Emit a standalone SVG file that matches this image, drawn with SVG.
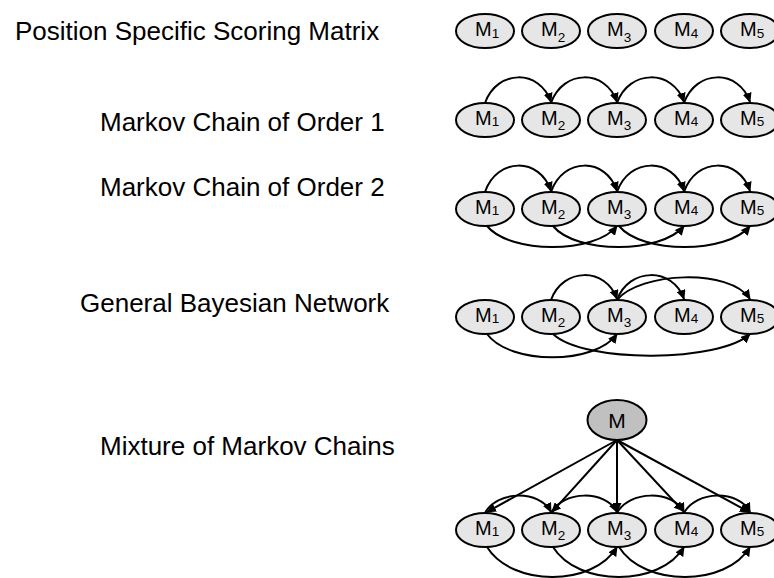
<svg xmlns="http://www.w3.org/2000/svg" width="774" height="578" viewBox="0 0 774 578">
<style>
.lbl{font-family:"Liberation Sans",Arial,sans-serif;font-size:26px;fill:#000}
.nt{font-family:"Liberation Sans",Arial,sans-serif;font-size:20px;fill:#000}
.ntc{font-family:"Liberation Sans",Arial,sans-serif;font-size:21px;fill:#000;text-anchor:middle}
.sub{font-size:13.5px}
.node ellipse{fill:#e6e6e6;stroke:#000;stroke-width:2}
.top ellipse{fill:#c0c0c0;stroke:#000;stroke-width:2}
.edge{fill:none;stroke:#000;stroke-width:2;marker-end:url(#ah)}
</style>
<defs>
<marker id="ah" markerUnits="userSpaceOnUse" viewBox="0 0 10 9" refX="9" refY="4.5" markerWidth="10" markerHeight="9" orient="auto">
<path d="M0,0 L10,4.5 L0,9 z" fill="#000"/>
</marker>
</defs>
<rect width="774" height="578" fill="#fff"/>
<g id="labels">
<text class="lbl" x="15" y="40">Position Specific Scoring Matrix</text>
<text class="lbl" x="100" y="131">Markov Chain of Order 1</text>
<text class="lbl" x="100" y="196">Markov Chain of Order 2</text>
<text class="lbl" x="80" y="312">General Bayesian Network</text>
<text class="lbl" x="100" y="455">Mixture of Markov Chains</text>
</g>
<g id="connectors">
<!-- row 2 -->
<path class="edge" d="M485,103 C497,69 540,69 551,102"/>
<path class="edge" d="M551,103 C563,69 606,69 617,102"/>
<path class="edge" d="M617,103 C629,69 673,69 684,102"/>
<path class="edge" d="M684,103 C696,69 739,69 750,102"/>
<!-- row 3 -->
<path class="edge" d="M485,192 C497,157 540,157 551,191"/>
<path class="edge" d="M551,192 C563,157 606,157 617,191"/>
<path class="edge" d="M617,192 C629,157 673,157 684,191"/>
<path class="edge" d="M684,192 C696,157 739,157 750,191"/>
<path class="edge" d="M487,226 C510,254 595,254 617,226"/>
<path class="edge" d="M553,226 C576,254 661,254 684,226"/>
<path class="edge" d="M619,226 C642,254 727,254 750,226"/>
<!-- row 4 -->
<path class="edge" d="M551,300 C563,267 606,267 617,299"/>
<path class="edge" d="M617,300 C629,267 673,267 684,299"/>
<path class="edge" d="M617,300 C640,272 730,268 750,299"/>
<path class="edge" d="M487,334 C510,365 595,365 617,334"/>
<path class="edge" d="M553,334 C585,364 720,362 750,334"/>
<!-- row 5 -->
<path class="edge" d="M617,440 L487,512"/>
<path class="edge" d="M617,440 L552,512"/>
<path class="edge" d="M617,440 L617,512"/>
<path class="edge" d="M617,440 L683,511"/>
<path class="edge" d="M617,440 L749,512"/>
<path class="edge" d="M485,513 C497,490 540,490 551,512"/>
<path class="edge" d="M551,513 C563,490 606,490 617,512"/>
<path class="edge" d="M617,513 C629,490 673,490 684,512"/>
<path class="edge" d="M684,513 C696,490 739,490 750,512"/>
<path class="edge" d="M487,547 C512,587 593,587 617,547"/>
<path class="edge" d="M553,547 C578,587 660,587 684,547"/>
<path class="edge" d="M619,547 C644,587 726,587 750,547"/>
</g>
<!-- row 1 -->
<g id="r1m1" class="node"><ellipse cx="485" cy="31" rx="29" ry="17"/><text class="nt" x="475" y="36">M<tspan class="sub" dy="1.7">1</tspan></text></g>
<g id="r1m2" class="node"><ellipse cx="551" cy="31" rx="29" ry="17"/><text class="nt" x="541" y="36">M<tspan class="sub" dy="5.5">2</tspan></text></g>
<g id="r1m3" class="node"><ellipse cx="617" cy="31" rx="29" ry="17"/><text class="nt" x="607" y="36">M<tspan class="sub" dy="5.5">3</tspan></text></g>
<g id="r1m4" class="node"><ellipse cx="684" cy="31" rx="29" ry="17"/><text class="nt" x="674" y="36">M<tspan class="sub" dy="1.7">4</tspan></text></g>
<g id="r1m5" class="node"><ellipse cx="750" cy="31" rx="29" ry="17"/><text class="nt" x="740" y="36">M<tspan class="sub" dy="1.7">5</tspan></text></g>
<!-- row 2 -->
<g id="r2m1" class="node"><ellipse cx="485" cy="120" rx="29" ry="17"/><text class="nt" x="475" y="124.5">M<tspan class="sub" dy="1.7">1</tspan></text></g>
<g id="r2m2" class="node"><ellipse cx="551" cy="120" rx="29" ry="17"/><text class="nt" x="541" y="124.5">M<tspan class="sub" dy="5.5">2</tspan></text></g>
<g id="r2m3" class="node"><ellipse cx="617" cy="120" rx="29" ry="17"/><text class="nt" x="607" y="124.5">M<tspan class="sub" dy="5.5">3</tspan></text></g>
<g id="r2m4" class="node"><ellipse cx="684" cy="120" rx="29" ry="17"/><text class="nt" x="674" y="124.5">M<tspan class="sub" dy="1.7">4</tspan></text></g>
<g id="r2m5" class="node"><ellipse cx="750" cy="120" rx="29" ry="17"/><text class="nt" x="740" y="124.5">M<tspan class="sub" dy="1.7">5</tspan></text></g>
<!-- row 3 -->
<g id="r3m1" class="node"><ellipse cx="485" cy="209" rx="29" ry="17"/><text class="nt" x="475" y="213.5">M<tspan class="sub" dy="1.7">1</tspan></text></g>
<g id="r3m2" class="node"><ellipse cx="551" cy="209" rx="29" ry="17"/><text class="nt" x="541" y="213.5">M<tspan class="sub" dy="5.5">2</tspan></text></g>
<g id="r3m3" class="node"><ellipse cx="617" cy="209" rx="29" ry="17"/><text class="nt" x="607" y="213.5">M<tspan class="sub" dy="5.5">3</tspan></text></g>
<g id="r3m4" class="node"><ellipse cx="684" cy="209" rx="29" ry="17"/><text class="nt" x="674" y="213.5">M<tspan class="sub" dy="1.7">4</tspan></text></g>
<g id="r3m5" class="node"><ellipse cx="750" cy="209" rx="29" ry="17"/><text class="nt" x="740" y="213.5">M<tspan class="sub" dy="1.7">5</tspan></text></g>
<!-- row 4 -->
<g id="r4m1" class="node"><ellipse cx="485" cy="317" rx="29" ry="17"/><text class="nt" x="475" y="321.5">M<tspan class="sub" dy="1.7">1</tspan></text></g>
<g id="r4m2" class="node"><ellipse cx="551" cy="317" rx="29" ry="17"/><text class="nt" x="541" y="321.5">M<tspan class="sub" dy="5.5">2</tspan></text></g>
<g id="r4m3" class="node"><ellipse cx="617" cy="317" rx="29" ry="17"/><text class="nt" x="607" y="321.5">M<tspan class="sub" dy="5.5">3</tspan></text></g>
<g id="r4m4" class="node"><ellipse cx="684" cy="317" rx="29" ry="17"/><text class="nt" x="674" y="321.5">M<tspan class="sub" dy="1.7">4</tspan></text></g>
<g id="r4m5" class="node"><ellipse cx="750" cy="317" rx="29" ry="17"/><text class="nt" x="740" y="321.5">M<tspan class="sub" dy="1.7">5</tspan></text></g>
<!-- row 5 -->
<g id="r5m" class="top"><ellipse cx="617" cy="420" rx="29.5" ry="20"/><text class="ntc" x="617" y="427.5">M</text></g>
<g id="r5m1" class="node"><ellipse cx="485" cy="530" rx="29" ry="17"/><text class="nt" x="475" y="534.5">M<tspan class="sub" dy="1.7">1</tspan></text></g>
<g id="r5m2" class="node"><ellipse cx="551" cy="530" rx="29" ry="17"/><text class="nt" x="541" y="534.5">M<tspan class="sub" dy="5.5">2</tspan></text></g>
<g id="r5m3" class="node"><ellipse cx="617" cy="530" rx="29" ry="17"/><text class="nt" x="607" y="534.5">M<tspan class="sub" dy="5.5">3</tspan></text></g>
<g id="r5m4" class="node"><ellipse cx="684" cy="530" rx="29" ry="17"/><text class="nt" x="674" y="534.5">M<tspan class="sub" dy="1.7">4</tspan></text></g>
<g id="r5m5" class="node"><ellipse cx="750" cy="530" rx="29" ry="17"/><text class="nt" x="740" y="534.5">M<tspan class="sub" dy="1.7">5</tspan></text></g>
</svg>
